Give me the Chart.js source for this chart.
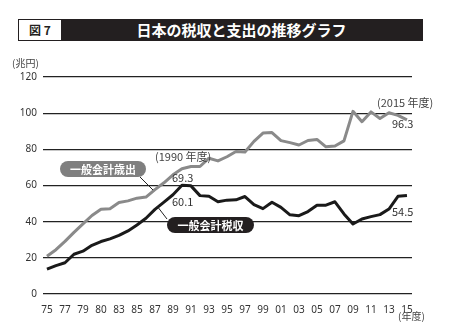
<!DOCTYPE html>
<html><head><meta charset="utf-8">
<script src="https://cdn.jsdelivr.net/npm/chart.js@4/dist/chart.umd.min.js"></script>
<style>
html,body{margin:0;padding:0;background:#fff;}
#wrap{position:relative;width:462px;height:330px;overflow:hidden;font-family:"Noto Sans CJK JP","Noto Sans",sans-serif;}
canvas{position:absolute;left:0;top:0;}
.t{position:absolute;white-space:nowrap;line-height:1;color:#333;}
.pill{position:absolute;border-radius:8px;color:#fff;font-weight:bold;font-size:11px;text-align:center;line-height:16px;height:16px;}
</style></head>
<body><div id="wrap">
<canvas id="c" width="462" height="330"></canvas>
<div style="position:absolute;left:18px;top:19px;width:405px;height:22px;background:#231f20;"></div>
<div style="position:absolute;left:19px;top:20px;width:42px;height:20px;background:#fff;color:#231f20;font-weight:bold;font-size:12px;line-height:20px;text-align:center;">図 7</div>
<div class="t" style="left:100px;width:283px;top:22px;text-align:center;color:#fff;font-weight:bold;font-size:15px;">日本の税収と支出の推移グラフ</div>
<div class="t" style="left:12px;top:58px;font-size:10px;color:#444;">(兆円)</div>
<div class="t" style="left:398px;top:311px;font-size:10px;color:#444;">(年度)</div>
<div class="t" style="left:155px;top:151px;font-size:11px;color:#444;">(1990 年度)</div>
<div class="t" style="left:172px;top:172px;font-size:11px;color:#333;">69.3</div>
<div class="t" style="left:172px;top:196px;font-size:11px;color:#333;">60.1</div>
<div class="t" style="left:377px;top:97px;font-size:11px;color:#444;">(2015 年度)</div>
<div class="t" style="left:392px;top:118px;font-size:11px;color:#333;">96.3</div>
<div class="t" style="left:392px;top:206px;font-size:11px;color:#333;">54.5</div>
<div class="pill" style="left:60px;top:161px;width:86px;background:#7f7f7f;">一般会計歳出</div>
<div class="pill" style="left:167px;top:217px;width:87px;background:#231f20;">一般会計税収</div>
</div>
<script>
const years = [1975,1976,1977,1978,1979,1980,1981,1982,1983,1984,1985,1986,1987,1988,1989,1990,1991,1992,1993,1994,1995,1996,1997,1998,1999,2000,2001,2002,2003,2004,2005,2006,2007,2008,2009,2010,2011,2012,2013,2014,2015];
const expenditure = [20.9,24.5,29.1,34.1,38.8,43.4,46.9,47.2,50.6,51.5,53.0,53.6,57.7,61.5,65.9,69.3,70.5,70.5,75.1,73.6,75.9,78.8,78.5,84.4,89.0,89.3,84.8,83.7,82.4,84.9,85.5,81.4,81.8,84.7,101.0,95.3,100.7,97.1,100.2,98.8,96.3];
const taxRevenue = [13.7,15.7,17.3,22.0,23.7,26.9,29.0,30.5,32.4,34.9,38.2,41.9,46.8,50.8,54.9,60.1,59.8,54.4,54.1,51.0,51.9,52.1,53.9,49.4,47.2,50.7,47.9,43.8,43.3,45.6,49.1,49.1,51.0,44.3,38.7,41.5,42.8,43.9,47.0,54.0,54.5];
const tickYears = [1975,1977,1979,1981,1983,1985,1987,1989,1991,1993,1995,1997,1999,2001,2003,2005,2007,2009,2011,2013,2015];
const tickLabels = ['75','77','79','80','83','85','87','89','91','93','95','97','99','01','03','05','07','09','11','13','15'];
const yTicks = [0,20,40,60,80,100,120];

const leaders = {
  id:'leaders',
  afterDatasetsDraw(chart){
    const ctx = chart.ctx;
    ctx.save();
    ctx.strokeStyle = '#222';
    ctx.lineWidth = 1;
    ctx.beginPath();
    ctx.moveTo(140,177); ctx.lineTo(153,190);
    ctx.moveTo(157,206); ctx.lineTo(167,219);
    ctx.stroke();
    ctx.restore();
  }
};

new Chart(document.getElementById('c'), {
  type:'line',
  data:{
    datasets:[
      {label:'一般会計歳出', data: years.map((y,i)=>({x:y,y:expenditure[i]})), borderColor:'#8a8a8a', borderWidth:3, pointRadius:0, tension:0, borderJoinStyle:'round'},
      {label:'一般会計税収', data: years.map((y,i)=>({x:y,y:taxRevenue[i]})), borderColor:'#1a1a1a', borderWidth:3, pointRadius:0, tension:0, borderJoinStyle:'round'}
    ]
  },
  options:{
    responsive:false, animation:false,
    layout:{padding:{left:0,right:50,top:77,bottom:0}},
    plugins:{legend:{display:false}, tooltip:{enabled:false}},
    scales:{
      x:{type:'linear', min:1974.56, max:2015.56,
        afterBuildTicks(s){ s.ticks = tickYears.map(v=>({value:v})); },
        afterFit(s){ s.height = 36; },
        ticks:{callback:(v)=>tickLabels[tickYears.indexOf(v)], font:{family:'Noto Sans',size:10}, color:'#333', padding:2, maxRotation:0, autoSkip:false},
        grid:{display:false}, border:{display:false}
      },
      y:{min:0, max:120,
        afterBuildTicks(s){ s.ticks = yTicks.map(v=>({value:v})); },
        afterFit(s){ s.width = 43; },
        ticks:{font:{family:'Noto Sans',size:10}, color:'#333', padding:6},
        grid:{color:'#222', lineWidth:1.2, drawTicks:false}, border:{display:false}
      }
    }
  },
  plugins:[leaders]
});
</script>
</body></html>
